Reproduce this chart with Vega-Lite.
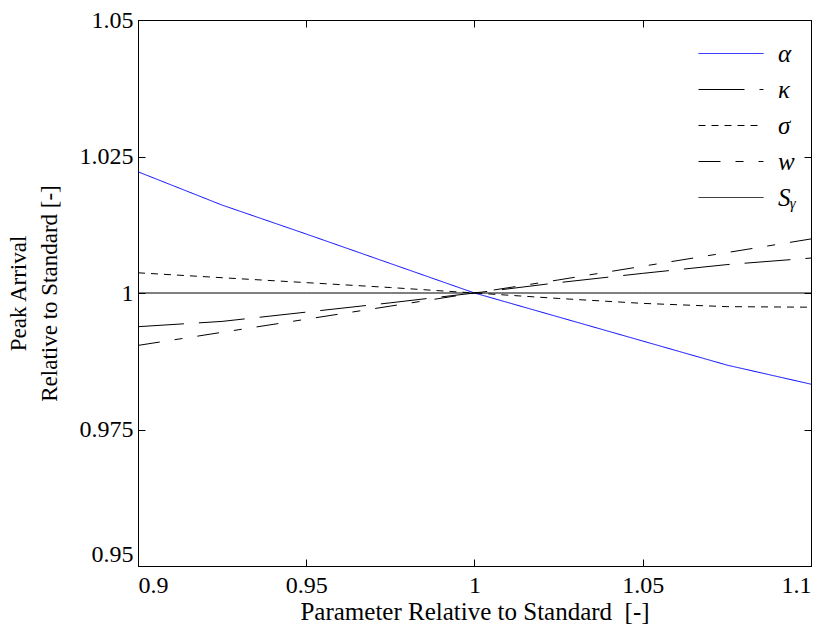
{
  "$schema": "https://vega.github.io/schema/vega-lite/v6.json",
  "width": 673,
  "height": 546,
  "autosize": {"type": "none"},
  "padding": {"left": 138, "top": 20, "right": 15, "bottom": 66},
  "background": "white",
  "config": {
    "view": {"stroke": "black", "strokeWidth": 1},
    "font": "Liberation Serif",
    "axis": {
      "grid": false,
      "domainColor": "black",
      "tickColor": "black",
      "labelColor": "black",
      "titleColor": "black",
      "labelFont": "Liberation Serif",
      "titleFont": "Liberation Serif",
      "labelFontSize": 24,
      "titleFontSize": 23,
      "titleFontWeight": "normal",
      "tickSize": -7
    },
    "legend": {"labelFont": "Liberation Serif"}
  },
  "data": {
    "values": [
      {"p": 0.9, "v": 1.0222, "s": "α"}, {"p": 0.925, "v": 1.0161, "s": "α"}, {"p": 0.95, "v": 1.0108, "s": "α"}, {"p": 0.975, "v": 1.0054, "s": "α"}, {"p": 1.0, "v": 1.0, "s": "α"}, {"p": 1.025, "v": 0.9956, "s": "α"}, {"p": 1.05, "v": 0.9912, "s": "α"}, {"p": 1.075, "v": 0.9868, "s": "α"}, {"p": 1.1, "v": 0.9833, "s": "α"},
      {"p": 0.9, "v": 0.99383, "s": "κ"}, {"p": 0.925, "v": 0.9948, "s": "κ"}, {"p": 0.95, "v": 0.9965, "s": "κ"}, {"p": 0.975, "v": 0.9982, "s": "κ"}, {"p": 1.0, "v": 1.0, "s": "κ"}, {"p": 1.025, "v": 1.0019, "s": "κ"}, {"p": 1.05, "v": 1.0036, "s": "κ"}, {"p": 1.075, "v": 1.0052, "s": "κ"}, {"p": 1.1, "v": 1.0064, "s": "κ"},
      {"p": 0.9, "v": 1.0037, "s": "σ"}, {"p": 0.925, "v": 1.0028, "s": "σ"}, {"p": 0.95, "v": 1.0019, "s": "σ"}, {"p": 0.975, "v": 1.001, "s": "σ"}, {"p": 1.0, "v": 1.0, "s": "σ"}, {"p": 1.025, "v": 0.999, "s": "σ"}, {"p": 1.05, "v": 0.9981, "s": "σ"}, {"p": 1.075, "v": 0.9975, "s": "σ"}, {"p": 1.1, "v": 0.9974, "s": "σ"},
      {"p": 0.9, "v": 0.9904, "s": "w"}, {"p": 0.925, "v": 0.9928, "s": "w"}, {"p": 0.95, "v": 0.9952, "s": "w"}, {"p": 0.975, "v": 0.9976, "s": "w"}, {"p": 1.0, "v": 1.0, "s": "w"}, {"p": 1.025, "v": 1.0024, "s": "w"}, {"p": 1.05, "v": 1.0049, "s": "w"}, {"p": 1.075, "v": 1.0074, "s": "w"}, {"p": 1.1, "v": 1.0099, "s": "w"},
      {"p": 0.9, "v": 1.0, "s": "S"}, {"p": 0.925, "v": 1.0, "s": "S"}, {"p": 0.95, "v": 1.0, "s": "S"}, {"p": 0.975, "v": 1.0, "s": "S"}, {"p": 1.0, "v": 1.0, "s": "S"}, {"p": 1.025, "v": 1.0, "s": "S"}, {"p": 1.05, "v": 1.0, "s": "S"}, {"p": 1.075, "v": 1.0, "s": "S"}, {"p": 1.1, "v": 1.0, "s": "S"}
    ]
  },
  "layer": [
    {
      "mark": {"type": "line", "strokeWidth": 1, "clip": true},
      "encoding": {
        "x": {
          "field": "p", "type": "quantitative",
          "scale": {"domain": [0.9, 1.1], "nice": false, "zero": false},
          "axis": {"orient": "bottom", "values": [0.9, 0.95, 1, 1.05, 1.1], "title": "Parameter Relative to Standard\u00a0\u00a0[-]", "titleFontSize": 25, "labelFont": "Liberation Serif", "labelPadding": 14, "titlePadding": 2, "format": ".4~g"}
        },
        "y": {
          "field": "v", "type": "quantitative",
          "scale": {"domain": [0.95, 1.05], "nice": false, "zero": false},
          "axis": {
            "orient": "left",
            "values": [0.95, 0.975, 1, 1.025, 1.05],
            "title": ["Peak Arrival", "Relative to Standard [-]"],
            "labelFont": "Liberation Serif",
            "labelPadding": 12,
            "titlePadding": 18,
            "titleLineHeight": 31,
            "format": ".4~g",
            "labelBaseline": {"condition": {"test": "datum.value == 0.95", "value": "bottom"}, "value": "middle"}
          }
        },
        "color": {
          "field": "s", "type": "nominal",
          "scale": {"domain": ["α", "κ", "σ", "w", "S"], "range": ["#0000ff", "black", "black", "black", "black"]},
          "legend": {
            "title": null,
            "orient": "none",
            "legendX": 560,
            "legendY": 18,
            "symbolType": "M-1,0H3.333",
            "symbolSize": 900,
            "symbolStrokeWidth": 1,
            "labelFont": "Liberation Serif",
            "labelFontStyle": "italic",
            "labelFontSize": 25,
            "labelColor": "black",
            "labelOffset": 49,
            "rowPadding": 7,
            "labelExpr": "datum.label == 'S' ? 'S\u1d67' : datum.label",
            "encode": {"symbols": {"update": {
              "stroke": {"signal": "datum.value === 'α' ? '#0000ff' : 'black'"},
              "strokeDash": {"signal": "datum.value === 'κ' ? [46, 15] : datum.value === 'σ' ? [7, 6] : datum.value === 'w' ? [22, 15, 8, 15] : [1, 0]"},
              "fill": {"value": "transparent"}
            }}}
          }
        },
        "strokeDash": {
          "field": "s", "type": "nominal",
          "scale": {"domain": ["α", "κ", "σ", "w", "S"], "range": [[1, 0], [46, 15], [7, 6], [22, 15, 8, 15], [1, 0]]},
          "legend": null
        }
      }
    },
    {
      "mark": {"type": "line", "opacity": 0},
      "encoding": {
        "x": {
          "field": "p", "type": "quantitative",
          "axis": {"orient": "top", "values": [0.9, 0.95, 1, 1.05, 1.1], "labels": false, "title": null}
        },
        "y": {
          "field": "v", "type": "quantitative",
          "axis": {"orient": "right", "values": [0.95, 0.975, 1, 1.025, 1.05], "labels": false, "title": null}
        },
        "detail": {"field": "s", "type": "nominal"}
      }
    }
  ],
  "resolve": {"axis": {"x": "independent", "y": "independent"}}
}
